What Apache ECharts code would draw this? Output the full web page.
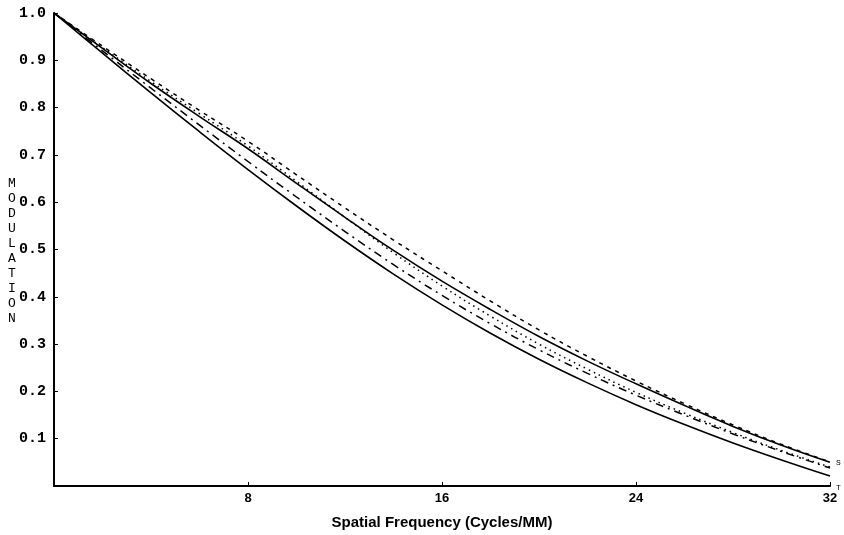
<!DOCTYPE html>
<html>
<head>
<meta charset="utf-8">
<script src="https://cdn.jsdelivr.net/npm/echarts@6/dist/echarts.min.js"></script>
<style>
  html, body { margin: 0; padding: 0; background: #fff; }
  #chart { width: 844px; height: 535px; }
</style>
</head>
<body>
<div id="chart"></div>
<script>
// spatial frequency samples (cycles/mm)
var freq = [0, 2, 4, 6, 8, 10, 12, 14, 16, 18, 20, 22, 24, 26, 28, 30, 32]

// modulation values, one array per curve
var shortDash = [1, 0.930, 0.861, 0.794, 0.729, 0.658, 0.588, 0.520, 0.455, 0.391, 0.330, 0.274, 0.222, 0.174, 0.129, 0.088, 0.051]
var dotted = [1, 0.927, 0.855, 0.787, 0.719, 0.644, 0.568, 0.493, 0.423, 0.359, 0.300, 0.247, 0.198, 0.154, 0.113, 0.075, 0.040]
var upperSolid = [1, 0.925, 0.851, 0.781, 0.713, 0.640, 0.568, 0.498, 0.433, 0.373, 0.316, 0.264, 0.216, 0.170, 0.126, 0.086, 0.050]
var dashDot = [1, 0.920, 0.841, 0.763, 0.686, 0.611, 0.538, 0.468, 0.403, 0.343, 0.288, 0.238, 0.192, 0.150, 0.110, 0.073, 0.038]
var lowerSolid = [1, 0.915, 0.831, 0.749, 0.669, 0.592, 0.518, 0.448, 0.383, 0.323, 0.268, 0.218, 0.172, 0.130, 0.091, 0.055, 0.021]

var xTicks = [8, 16, 24, 32]
var yTicks = [0.1, 0.2, 0.3, 0.4, 0.5, 0.6, 0.7, 0.8, 0.9, 1.0]
var yName = 'MODULATION'

function pairs(vals) {
  return freq.map(function(f, i) { return [f, vals[i]] })
}

function curve(name, vals, type, width) {
  return {
    name: name,
    type: 'line',
    data: pairs(vals),
    smooth: 0.4,
    symbol: 'none',
    silent: true,
    lineStyle: { color: '#000', width: width, type: type }
  }
}

var chart = echarts.init(document.getElementById('chart'))
chart.setOption({
  animation: false,
  backgroundColor: '#fff',
  grid: { left: 54, right: 14, top: 13, bottom: 43 },
  xAxis: {
    type: 'value',
    min: 0,
    max: 32,
    interval: 8,
    name: 'Spatial Frequency (Cycles/MM)',
    nameLocation: 'middle',
    nameGap: 29,
    nameTextStyle: { color: '#000', fontFamily: 'Liberation Sans', fontWeight: 'bold', fontSize: 15 },
    axisLine: { lineStyle: { color: '#000', width: 2 } },
    axisTick: { inside: true, length: 4, lineStyle: { color: '#000' } },
    splitLine: { show: false },
    axisLabel: {
      color: '#000',
      fontFamily: 'Liberation Sans',
      fontWeight: 'bold',
      fontSize: 13,
      margin: 6,
      formatter: function(v) { return xTicks.indexOf(v) >= 0 ? String(v) : '' }
    }
  },
  yAxis: {
    type: 'value',
    min: 0,
    max: 1,
    interval: 0.1,
    axisLine: { show: true, lineStyle: { color: '#000', width: 2 } },
    axisTick: { show: true, inside: true, length: 4, lineStyle: { color: '#000' } },
    splitLine: { show: false },
    axisLabel: {
      color: '#000',
      fontFamily: 'Liberation Mono',
      fontWeight: 'bold',
      fontSize: 15,
      margin: 8,
      formatter: function(v) {
        var r = Math.round(v * 10) / 10
        return yTicks.indexOf(r) >= 0 ? r.toFixed(1) : ''
      }
    }
  },
  graphic: [
    {
      type: 'text',
      left: 8,
      top: 176,
      style: {
        text: yName.split('').join('\n'),
        fill: '#000',
        font: '13px "Liberation Mono"',
        lineHeight: 15,
        align: 'center'
      }
    },
    { type: 'text', left: 836, top: 459, style: { text: 'S', fill: '#000', font: '8px "Liberation Mono"' } },
    { type: 'text', left: 836, top: 484, style: { text: 'T', fill: '#000', font: '8px "Liberation Mono"' } }
  ],
  series: [
    curve('short dash', shortDash, [4, 5], 1.5),
    curve('dotted', dotted, [1.5, 4], 1.5),
    curve('upper solid', upperSolid, 'solid', 1.6),
    curve('dash dot', dashDot, [8, 5, 2, 5], 1.5),
    curve('lower solid', lowerSolid, 'solid', 1.6)
  ]
})
</script>
</body>
</html>
